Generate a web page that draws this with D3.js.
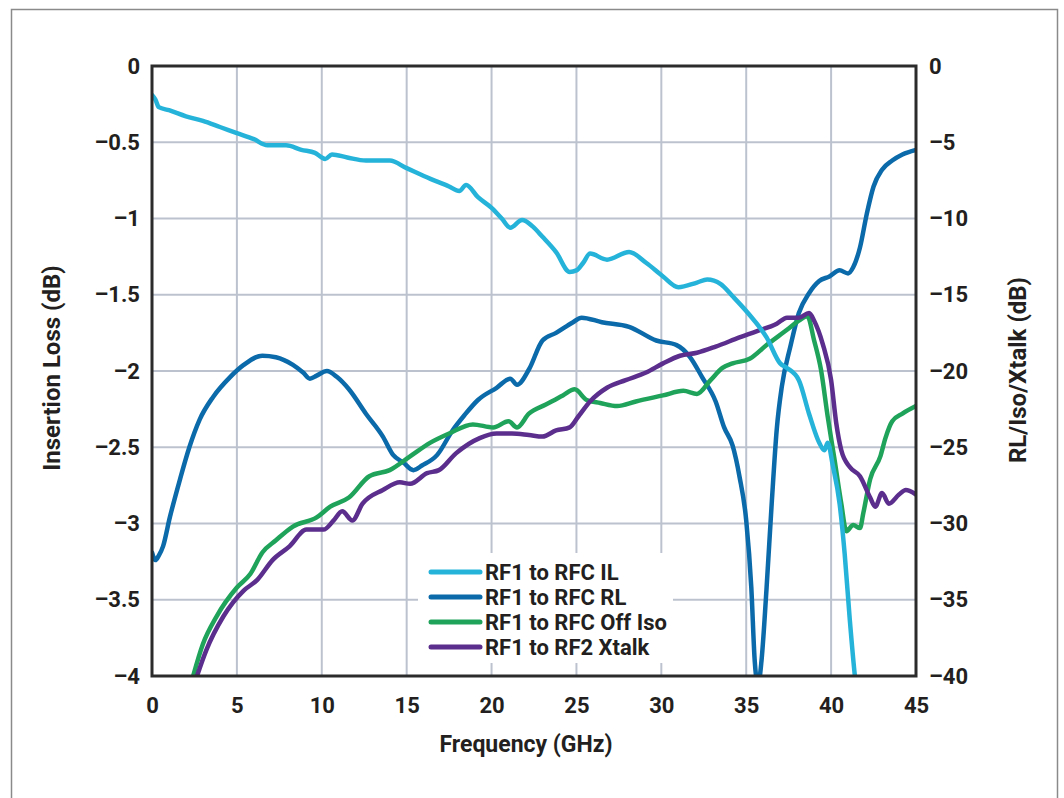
<!DOCTYPE html>
<html>
<head>
<meta charset="utf-8">
<script src="https://cdn.jsdelivr.net/npm/d3@7"></script>
<style>
  body { margin: 0; background: #fff; }
  text { font-family: Roboto, "DejaVu Sans", sans-serif; font-weight: 700; fill: #231f20; }
</style>
</head>
<body>
<div id="chart"></div>
<script>
// frequency ticks and axis ticks
const freqTicks = [0, 5, 10, 15, 20, 25, 30, 35, 40, 45];
const ilTicks = [0, -0.5, -1, -1.5, -2, -2.5, -3, -3.5, -4];
const rlTicks = [0, -5, -10, -15, -20, -25, -30, -35, -40];

const seriesNames = ["RF1 to RFC IL", "RF1 to RFC RL", "RF1 to RFC Off Iso", "RF1 to RF2 Xtalk"];
const seriesColors = ["#25b3da", "#0b6aa9", "#1fa35b", "#5b2d8c"];

// RF1 to RFC insertion loss, left axis (GHz, dB)
const ilData = [
  [0, -0.19], [0.2, -0.22], [0.4, -0.27], [1, -0.29], [2, -0.33], [3, -0.36], [4, -0.40], [5, -0.44],
  [6, -0.48], [6.8, -0.52], [7.9, -0.52], [8.8, -0.55], [9.6, -0.57], [10, -0.6], [10.2, -0.61],
  [10.6, -0.58], [11.5, -0.6], [12.6, -0.62], [14, -0.62], [15, -0.67], [16.4, -0.74], [17.5, -0.79],
  [18.1, -0.82], [18.5, -0.78], [19.2, -0.86], [20, -0.93], [20.6, -1.0], [21.1, -1.06], [21.8, -1.01],
  [22.4, -1.05], [23, -1.12], [23.8, -1.22], [24.6, -1.35], [25, -1.34], [25.4, -1.29], [25.8, -1.23],
  [26.8, -1.27], [28.1, -1.22], [29.1, -1.29], [30.1, -1.38], [31, -1.45], [32.1, -1.42], [32.7, -1.40],
  [33.5, -1.43], [34.2, -1.51], [35.1, -1.62], [36.2, -1.78], [37, -1.95], [37.4, -1.98], [38.1, -2.06],
  [38.7, -2.28], [39.3, -2.47], [39.6, -2.52], [39.8, -2.47], [40.1, -2.62], [40.5, -2.87], [40.8, -3.2],
  [41.1, -3.63], [41.4, -4.0], [41.5, -4.1]
];

// RF1 to RFC return loss, right axis (GHz, dB)
const rlData = [
  [0, -31.9], [0.2, -32.4], [0.4, -32.1], [0.65, -31.5], [1.05, -29.6], [1.65, -27.1], [2.2, -25.0],
  [2.8, -23.2], [3.6, -21.7], [4.6, -20.4], [5.4, -19.6], [6.5, -19.0], [7.3, -19.1], [8.3, -19.6],
  [8.9, -20.1], [9.3, -20.5], [9.7, -20.3], [10.3, -20.0], [10.9, -20.4], [11.6, -21.2], [12.6, -22.8],
  [13.6, -24.3], [14.2, -25.5], [14.8, -26.0], [15.4, -26.5], [15.9, -26.2], [16.8, -25.5], [17.7, -23.9],
  [18.4, -22.9], [19.2, -21.9], [20.3, -21.1], [21.1, -20.5], [21.5, -20.9], [22.2, -19.9], [23, -18.0],
  [23.8, -17.5], [24.8, -16.8], [25.3, -16.5], [26.5, -16.8], [28.1, -17.1], [29.7, -18.0], [30.9, -18.3],
  [31.7, -19.1], [32.4, -20.4], [33.2, -22.0], [33.7, -23.7], [34.2, -24.9], [34.6, -26.9], [35.0, -29.8],
  [35.3, -34.2], [35.5, -39.0], [35.7, -40.6], [35.9, -39.0], [36.2, -34.2], [36.5, -28.7], [36.8, -23.8],
  [37.1, -21.0], [37.6, -18.4], [38.1, -16.2], [38.7, -14.9], [39.3, -14.1], [39.9, -13.8], [40.5, -13.4],
  [41.0, -13.6], [41.3, -13.2], [41.7, -11.9], [42.1, -9.7], [42.5, -7.9], [43, -6.8], [43.6, -6.2],
  [44.2, -5.8], [45, -5.5]
];

// RF1 to RFC off isolation, right axis (GHz, dB)
const isoData = [
  [2.3, -40.5], [3.0, -37.9], [3.8, -36.1], [5, -34.2], [5.8, -33.3], [6.5, -31.9], [7.3, -31.1],
  [8.3, -30.2], [9.7, -29.6], [10.5, -28.9], [11.6, -28.3], [12.8, -26.9], [14, -26.5], [15.2, -25.6],
  [16.4, -24.7], [17.5, -24.1], [18.9, -23.5], [20.1, -23.7], [21, -23.3], [21.5, -23.7], [22.2, -22.8],
  [23.2, -22.2], [24.2, -21.6], [24.9, -21.2], [25.6, -21.9], [26.4, -22.1], [27.4, -22.3], [28.5, -22.0],
  [30.1, -21.6], [31.3, -21.3], [32.1, -21.5], [32.9, -20.6], [33.6, -19.8], [34.2, -19.5], [35.2, -19.2],
  [36.2, -18.3], [37.4, -17.3], [38.1, -16.7], [38.6, -16.4], [39, -18.0], [39.4, -19.9], [39.8, -23.0],
  [40.2, -25.8], [40.6, -28.7], [40.9, -30.5], [41.3, -30.1], [41.7, -30.3], [41.9, -29.3], [42.3, -27.1],
  [42.9, -25.6], [43.2, -24.4], [43.6, -23.3], [44.2, -22.8], [45, -22.3]
];

// RF1 to RF2 crosstalk, right axis (GHz, dB)
const xtalkData = [
  [2.5, -40.5], [3.2, -38.3], [4.2, -36.1], [5.4, -34.4], [6.2, -33.7], [7.1, -32.4], [8.1, -31.5],
  [9.1, -30.4], [10.1, -30.4], [10.7, -29.8], [11.2, -29.2], [11.8, -29.8], [12.4, -28.7], [13.6, -27.8],
  [14.6, -27.3], [15.2, -27.4], [16.2, -26.7], [16.9, -26.5], [17.9, -25.4], [19.3, -24.4], [20.3, -24.1],
  [21.2, -24.1], [22.2, -24.2], [23, -24.3], [23.8, -23.9], [24.6, -23.7], [25.1, -23.0], [25.8, -22.0],
  [26.8, -21.1], [27.9, -20.6], [29.1, -20.1], [30.1, -19.5], [31.1, -19.0], [32.1, -18.8], [33.2, -18.4],
  [34.6, -17.8], [35.6, -17.4], [36.8, -16.9], [37.4, -16.5], [38.1, -16.5], [38.7, -16.2], [39, -16.7],
  [39.5, -18.2], [40, -20.6], [40.3, -23.4], [40.6, -25.2], [41.1, -26.3], [41.7, -26.9], [42.3, -28.3],
  [42.6, -28.9], [43, -28.0], [43.4, -28.7], [44, -28.1], [44.4, -27.8], [45, -28.1]
];

const width = 1064;
const height = 798;
const plot = { left: 152, top: 66, right: 916, bottom: 676 };

const svg = d3.select("#chart")
    .append("svg")
    .attr("width", width)
    .attr("height", height);

// outer frame of the figure
svg.append("rect")
    .attr("x", 11.5)
    .attr("y", 9.5)
    .attr("width", 1046)
    .attr("height", 800)
    .attr("fill", "none")
    .attr("stroke", "#8a8a8a")
    .attr("stroke-width", 1.5);

const x = d3.scaleLinear().domain([0, 45]).range([plot.left, plot.right]);
const yLeft = d3.scaleLinear().domain([-4, 0]).range([plot.bottom, plot.top]);
const yRight = d3.scaleLinear().domain([-40, 0]).range([plot.bottom, plot.top]);

const fmt = v => (v < 0 ? "\u2013" + Math.abs(v) : String(v));

// grid
const grid = svg.append("g").attr("stroke", "#bcc3cf").attr("stroke-width", 2);
freqTicks.slice(1, -1).forEach(f => {
    grid.append("line")
        .attr("x1", x(f)).attr("x2", x(f))
        .attr("y1", plot.top).attr("y2", plot.bottom);
});
ilTicks.slice(1, -1).forEach(v => {
    grid.append("line")
        .attr("x1", plot.left).attr("x2", plot.right)
        .attr("y1", yLeft(v)).attr("y2", yLeft(v));
});

// axes (labels only, the frame is drawn below)
const xAxis = svg.append("g")
    .attr("transform", `translate(0, ${plot.bottom + 21})`)
    .call(d3.axisBottom(x).tickValues(freqTicks).tickSize(0).tickFormat(fmt));
const leftAxis = svg.append("g")
    .attr("transform", `translate(${plot.left - 12}, 0)`)
    .call(d3.axisLeft(yLeft).tickValues(ilTicks).tickSize(0).tickFormat(fmt));
const rightAxis = svg.append("g")
    .attr("transform", `translate(${plot.right + 13}, 0)`)
    .call(d3.axisRight(yRight).tickValues(rlTicks).tickSize(0).tickFormat(fmt));

[xAxis, leftAxis, rightAxis].forEach(a => {
    a.select(".domain").remove();
    a.selectAll("text")
        .style("font-size", "22px")
        .style("font-family", "Roboto, sans-serif")
        .style("font-weight", 700)
        .attr("fill", "#231f20");
});
leftAxis.selectAll("text").attr("x", 0);
rightAxis.selectAll("text").attr("x", 0);
xAxis.selectAll("text").attr("y", 0).attr("dy", "0.71em");

// axis titles
svg.append("text")
    .attr("x", 526)
    .attr("y", 752)
    .attr("text-anchor", "middle")
    .style("font-size", "23px")
    .text("Frequency (GHz)");

svg.append("text")
    .attr("transform", "translate(60, 368) rotate(-90)")
    .attr("text-anchor", "middle")
    .style("font-size", "24px")
    .text("Insertion Loss (dB)");

svg.append("text")
    .attr("transform", "translate(1026, 370) rotate(-90)")
    .attr("text-anchor", "middle")
    .style("font-size", "24px")
    .text("RL/Iso/Xtalk (dB)");

// curves
svg.append("clipPath")
    .attr("id", "plot-clip")
    .append("rect")
    .attr("x", plot.left)
    .attr("y", plot.top)
    .attr("width", plot.right - plot.left)
    .attr("height", plot.bottom - plot.top);

const curves = svg.append("g").attr("clip-path", "url(#plot-clip)");

const lineLeft = d3.line().x(d => x(d[0])).y(d => yLeft(d[1])).curve(d3.curveMonotoneX);
const lineRight = d3.line().x(d => x(d[0])).y(d => yRight(d[1])).curve(d3.curveMonotoneX);

const drawOrder = [
    { data: rlData, line: lineRight, color: seriesColors[1] },
    { data: isoData, line: lineRight, color: seriesColors[2] },
    { data: xtalkData, line: lineRight, color: seriesColors[3] },
    { data: ilData, line: lineLeft, color: seriesColors[0] }
];

drawOrder.forEach(s => {
    curves.append("path")
        .datum(s.data)
        .attr("fill", "none")
        .attr("stroke", s.color)
        .attr("stroke-width", 4.5)
        .attr("stroke-linejoin", "round")
        .attr("stroke-linecap", "round")
        .attr("d", s.line);
});

// plot frame
svg.append("rect")
    .attr("x", plot.left)
    .attr("y", plot.top)
    .attr("width", plot.right - plot.left)
    .attr("height", plot.bottom - plot.top)
    .attr("fill", "none")
    .attr("stroke", "#2b2b2b")
    .attr("stroke-width", 3);

// legend
const legend = svg.append("g").attr("transform", "translate(418, 553)");
legend.append("rect")
    .attr("x", 0)
    .attr("y", 0)
    .attr("width", 255)
    .attr("height", 110)
    .attr("fill", "#fff");

seriesNames.forEach((name, i) => {
    const yy = 19 + i * 25;
    legend.append("line")
        .attr("x1", 13).attr("x2", 62)
        .attr("y1", yy).attr("y2", yy)
        .attr("stroke", seriesColors[i])
        .attr("stroke-width", 5)
        .attr("stroke-linecap", "round");
    legend.append("text")
        .attr("x", 67)
        .attr("y", yy)
        .attr("dy", "0.35em")
        .style("font-size", "22px")
        .text(name);
});
</script>
</body>
</html>
